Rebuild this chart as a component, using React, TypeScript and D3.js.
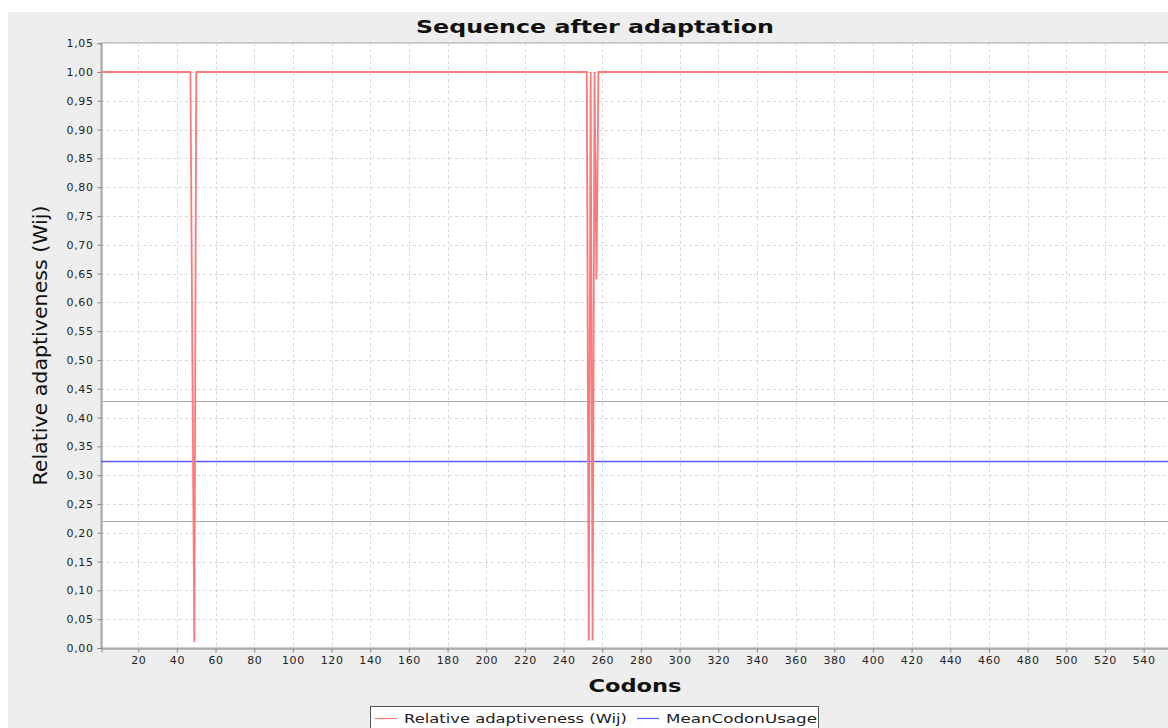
import React, { useEffect, useRef } from 'react';
import * as d3 from 'd3';

// codons shown along the x axis (the chart is cut at the right edge)
const codonCount = 560;
const baseValue = 1.0;
// codons where the relative adaptiveness drops below 1
const dipCodons = [48, 49, 253, 254, 255, 256, 257];
const dipValues = [0.5, 0.01, 0.013, 1.0, 0.013, 1.0, 0.64];

const meanCodonUsage = 0.3245;
const upperBound = 0.4287;
const lowerBound = 0.2204;

const xTicks = [20, 40, 60, 80, 100, 120, 140, 160, 180, 200, 220, 240, 260, 280, 300, 320, 340, 360, 380, 400, 420, 440, 460, 480, 500, 520, 540];
const yTicks = [0, 0.05, 0.1, 0.15, 0.2, 0.25, 0.3, 0.35, 0.4, 0.45, 0.5, 0.55, 0.6, 0.65, 0.7, 0.75, 0.8, 0.85, 0.9, 0.95, 1.0, 1.05];

const title = 'Sequence after adaptation';
const xLabel = 'Codons';
const yLabel = 'Relative adaptiveness (Wij)';
const legendNames = ['Relative adaptiveness (Wij)', 'MeanCodonUsage'];

export default function App() {
  const ref = useRef<SVGSVGElement>(null);

  useEffect(() => {
    const svg = d3.select(ref.current);
    svg.selectAll('*').remove();

    const width = 1168, height = 728;
    const plot = { left: 101, top: 43, right: 1169, bottom: 648 };

    // build the series: every codon at the base value except the dips
    const series = d3.range(1, codonCount + 1).map((c) => {
      const i = dipCodons.indexOf(c);
      return { codon: c, value: i >= 0 ? dipValues[i] : baseValue };
    });

    const x = d3.scaleLinear().domain([1, codonCount]).range([plot.left + 0.5, plot.left + 0.5 + (codonCount - 1) * 1.9335]);
    const y = d3.scaleLinear().domain([0, 1.05]).range([plot.bottom, 43.2]);

    svg.append('rect').attr('x', 0).attr('y', 0).attr('width', width).attr('height', height).attr('fill', '#ffffff');
    svg.append('rect').attr('x', 8).attr('y', 12).attr('width', width).attr('height', height).attr('fill', '#eeeeee');

    svg.append('rect')
      .attr('x', plot.left).attr('y', plot.top)
      .attr('width', plot.right - plot.left).attr('height', plot.bottom - plot.top)
      .attr('fill', '#ffffff').attr('stroke', '#a0a0a0').attr('stroke-width', 1);

    const grid = svg.append('g').attr('stroke', '#d8d8d8').attr('stroke-dasharray', '3,3').attr('stroke-width', 1);
    xTicks.forEach((t) => {
      grid.append('line').attr('x1', Math.round(x(t)) + 0.5).attr('x2', Math.round(x(t)) + 0.5)
        .attr('y1', plot.top).attr('y2', plot.bottom);
    });
    yTicks.forEach((t) => {
      grid.append('line').attr('x1', plot.left).attr('x2', plot.right)
        .attr('y1', Math.round(y(t)) + 0.5).attr('y2', Math.round(y(t)) + 0.5);
    });

    // axes
    const font = '"DejaVu Sans", Verdana, sans-serif';
    const yAxis = d3.axisLeft(y).tickValues(yTicks).tickSize(4).tickPadding(4)
      .tickFormat((d) => d3.format('.2f')(d as number).replace('.', ','));
    const gy = svg.append('g').attr('transform', `translate(${plot.left + 0.5},0)`).call(yAxis);
    const xAxis = d3.axisBottom(x).tickValues(xTicks).tickSize(4).tickPadding(4);
    const gx = svg.append('g').attr('transform', `translate(0,${plot.bottom + 0.5})`).call(xAxis);
    [gx, gy].forEach((g) => {
      g.select('.domain').attr('stroke', '#888888');
      g.selectAll('.tick line').attr('stroke', '#888888');
      g.selectAll('.tick text').attr('fill', '#222222').style('font-family', font).style('font-size', '11px').style('letter-spacing', '0.6px');
    });

    // reference lines
    [upperBound, lowerBound].forEach((v) => {
      svg.append('line').attr('x1', plot.left).attr('x2', plot.right)
        .attr('y1', Math.round(y(v)) + 0.5).attr('y2', Math.round(y(v)) + 0.5)
        .attr('stroke', '#aaaaaa').attr('stroke-width', 1);
    });
    svg.append('line').attr('x1', plot.left).attr('x2', plot.right)
      .attr('y1', Math.round(y(meanCodonUsage)) + 0.5).attr('y2', Math.round(y(meanCodonUsage)) + 0.5)
      .attr('stroke', '#5a5aff').attr('stroke-width', 1.6);

    const line = d3.line<{ codon: number; value: number }>().x((d) => x(d.codon)).y((d) => y(d.value));
    svg.append('path').datum(series).attr('d', line).attr('fill', 'none')
      .attr('stroke', '#ff7878').attr('stroke-width', 1.8);

    // titles
    svg.append('text').attr('x', 595).attr('y', 33).attr('text-anchor', 'middle')
      .style('font-family', font).style('font-weight', 'bold').style('font-size', '18px')
      .attr('textLength', 358).attr('lengthAdjust', 'spacingAndGlyphs').attr('fill', '#111').text(title);
    svg.append('text').attr('x', 635).attr('y', 692).attr('text-anchor', 'middle')
      .style('font-family', font).style('font-weight', 'bold').style('font-size', '18px')
      .attr('textLength', 93).attr('lengthAdjust', 'spacingAndGlyphs').attr('fill', '#111').text(xLabel);
    svg.append('text').attr('transform', `translate(47,${(plot.top + plot.bottom) / 2}) rotate(-90)`)
      .attr('text-anchor', 'middle')
      .style('font-family', '"DejaVu Sans Condensed", "DejaVu Sans", sans-serif').style('font-size', '19px')
      .attr('textLength', 280).attr('lengthAdjust', 'spacingAndGlyphs').attr('fill', '#111').text(yLabel);

    // legend
    const lg = svg.append('g');
    lg.append('rect').attr('x', 370.5).attr('y', 706.5).attr('width', 448).attr('height', 30)
      .attr('fill', '#ffffff').attr('stroke', '#555555').attr('stroke-width', 1);
    const legendColors = ['#ff7878', '#5a5aff'];
    const legendX = [375, 637];
    const legendLen = [223, 151];
    legendNames.forEach((name, i) => {
      lg.append('line').attr('x1', legendX[i]).attr('x2', legendX[i] + 22).attr('y1', 718.5).attr('y2', 718.5)
        .attr('stroke', legendColors[i]).attr('stroke-width', 1.2);
      lg.append('text').attr('x', legendX[i] + 29).attr('y', 723).style('font-family', font).style('font-size', '13px')
        .attr('textLength', legendLen[i]).attr('lengthAdjust', 'spacingAndGlyphs').attr('fill', '#222').text(name);
    });
  }, []);

  return (
    <svg ref={ref} width={1168} height={728}
      style={{ display: 'block', position: 'absolute', left: 0, top: 0 }} />
  );
}
